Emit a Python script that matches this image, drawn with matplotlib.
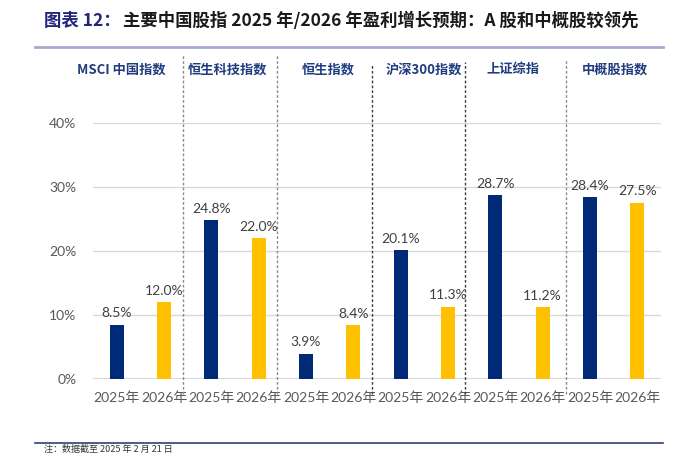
import matplotlib
matplotlib.use("Agg")
import matplotlib.pyplot as plt
import numpy as np

# ---- data ----
indices = ["MSCI 中国指数", "恒生科技指数", "恒生指数", "沪深300指数", "上证综指", "中概股指数"]
years = ["2025年", "2026年"]
growth_2025 = [8.5, 24.8, 3.9, 20.1, 28.7, 28.4]
growth_2026 = [12.0, 22.0, 8.4, 11.3, 11.2, 27.5]
y_ticks = [0, 10, 20, 30, 40]
title_prefix = "图表 12："
title_main = "主要中国股指 2025 年/2026 年盈利增长预期：A 股和中概股较领先"
footnote = "注：数据截至 2025 年 2 月 21 日"

# ---- style ----
NAVY = "#002A77"
GOLD = "#FFC000"
GRAY_TXT = "#595959"
LABEL_NAVY = "#1F3C7E"
CJK = ["Noto Sans CJK SC", "DejaVu Sans"]
LAT = ["Lato", "Noto Sans CJK SC"]

fig = plt.figure(figsize=(6.91, 4.54), dpi=100)
W, H = 691, 454
ax = fig.add_axes([93 / W, 1 - 379 / H, (661 - 93) / W, (379 - 123) / H])

n = len(indices)
values, colors, xlabels = [], [], []
for a, b in zip(growth_2025, growth_2026):
    values += [a, b]
    colors += [NAVY, GOLD]
    xlabels += years
x = np.arange(len(values))

bars = ax.bar(x, values, width=0.30, color=colors, zorder=3)
for xi, v in zip(x, values):
    ax.annotate(f"{v:.1f}%", (xi, v), xytext=(0, 4), textcoords="offset points",
                ha="center", va="bottom", fontsize=10, color="#404040",
                family=LAT, zorder=4)

ax.set_xlim(-0.5, len(values) - 0.5)
ax.set_ylim(0, 40)
ax.set_yticks(y_ticks)
ax.set_yticklabels([f"{t}%" for t in y_ticks], family=LAT, fontsize=10, color=GRAY_TXT)
ax.set_xticks(x)
ax.set_xticklabels(xlabels, family=LAT, fontsize=10, color=GRAY_TXT)
ax.tick_params(axis="both", length=0)
ax.tick_params(axis="y", pad=12)
ax.tick_params(axis="x", pad=9)
for s in ax.spines.values():
    s.set_visible(False)
ax.grid(axis="y", color="#D9D9D9", linewidth=1.0, zorder=0)
ax.set_axisbelow(True)
ax.axhline(0, color="#D9D9D9", linewidth=1.5, zorder=1)

# group separators (dashed, manual in original)
sep_offsets = [-0.09, -0.12, -0.11, -0.14, 0.0]
sep_colors = ["#8C8C8C", "#8C8C8C", "#404040", "#404040", "#8C8C8C"]
sep_tops = [50.6, 50.6, 49.0, 49.5, 49.8]
for i in range(n - 1):
    xs = 2 * i + 1.5 + sep_offsets[i]
    ax.plot([xs, xs], [-2.4, sep_tops[i]], color=sep_colors[i], linestyle=(0, (2, 1.5)),
            linewidth=1.0, clip_on=False, zorder=2)

# group labels
label_offsets = [-0.4, -0.15, -0.03, -0.01, -0.12, 0.03]
for i, name in enumerate(indices):
    ax.text(2 * i + 0.5 + label_offsets[i], 48.4, name, ha="center", va="center",
            fontsize=9.5, fontweight="bold", color=LABEL_NAVY, family=CJK)

# title
t1 = fig.text(44 / W, 1 - 21 / H, title_prefix, ha="left", va="center",
              fontsize=12.5, fontweight="bold", color="#23237A", family=CJK)
fig.canvas.draw()
bb = t1.get_window_extent()
fig.text(bb.x1 / (W) + 2 / W, 1 - 21 / H, title_main, ha="left", va="center",
         fontsize=12.5, fontweight="bold", color="#1A1A1A", family=CJK)

# rules
fig.add_artist(plt.Line2D([35 / W, 663 / W], [1 - 47 / H] * 2, color="#A9A9CF", linewidth=2.0))
fig.add_artist(plt.Line2D([35 / W, 663 / W], [1 - 443 / H] * 2, color="#2E3F7C", linewidth=1.2))
fig.text(44 / W, 1 - 453.5 / H, footnote, ha="left", va="bottom", fontsize=6.5,
         color="#333333", family=CJK)

fig.savefig("out.png", dpi=100)
